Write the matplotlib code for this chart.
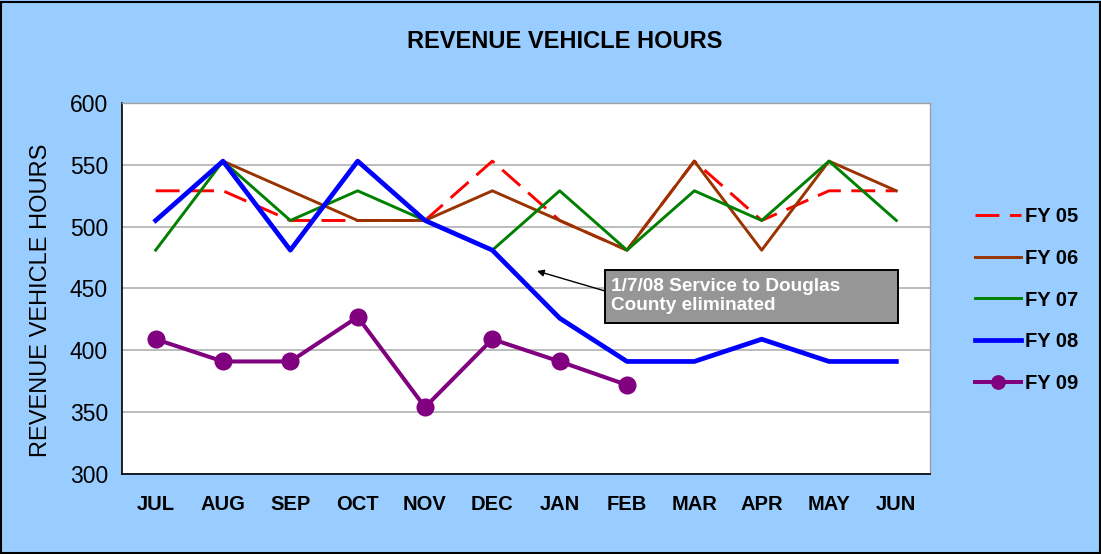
import matplotlib
matplotlib.use("Agg")
import matplotlib.pyplot as plt
from matplotlib.patches import Rectangle

plt.rcParams['font.family'] = ['Liberation Sans', 'DejaVu Sans']

months = ["JUL", "AUG", "SEP", "OCT", "NOV", "DEC", "JAN", "FEB", "MAR", "APR", "MAY", "JUN"]
fy05 = [529, 529, 505, 505, 505, 553, 505, 481, 553, 505, 529, 529]
fy06 = [None, 553, 529, 505, 505, 529, 505, 481, 553, 481, 553, 529]
fy07 = [481, 553, 505, 529, 505, 481, 529, 481, 529, 505, 553, 505]
fy08 = [505, 553, 481, 553, 505, 481, 426, 391, 391, 409, 391, 391]
fy09 = [409, 391, 391, 427, 354, 409, 391, 372]
yticks = [300, 350, 400, 450, 500, 550, 600]

W, H = 1101, 554
bg = "#99CCFF"
fig = plt.figure(figsize=(W / 100, H / 100), dpi=100, facecolor=bg)
ax = fig.add_axes([122/W, 1-474/H, (930-122)/W, (474-103)/H])
ax.set_facecolor("white")

x = list(range(len(months)))
x06 = [i for i, v in enumerate(fy06) if v is not None]
v06 = [v for v in fy06 if v is not None]
ax.plot(x, fy05, color="#FF0000", lw=2.1, dashes=(8.2, 3.6), label="FY 05", zorder=3)
ax.plot(x06, v06, color="#993300", lw=2.1, label="FY 06", zorder=4)
ax.plot(x, fy07, color="#008000", lw=2.1, label="FY 07", zorder=5)
ax.plot(x, fy08, color="#0000FF", lw=3.4, label="FY 08", zorder=6)
ax.plot(range(len(fy09)), fy09, color="#800080", lw=2.9, marker="o", ms=12,
        label="FY 09", zorder=7)

ax.set_xlim(-0.5, len(months) - 0.5)
ax.set_ylim(300, 600)
ax.set_yticks(yticks)
ax.set_yticklabels([str(v) for v in yticks], fontsize=16.5)
ax.set_xticks(x)
ax.set_xticklabels(months, fontsize=14.5, fontweight="bold")
ax.tick_params(axis="x", length=0, pad=15)
ax.tick_params(axis="y", length=0, pad=10)
ax.yaxis.grid(True, color="#B0B0B0", lw=1.2)
ax.set_axisbelow(True)
for s in ["left", "bottom"]:
    ax.spines[s].set_color("black")
    ax.spines[s].set_linewidth(1.2)
for s in ["top", "right"]:
    ax.spines[s].set_color("#A0A0A0")
    ax.spines[s].set_linewidth(1.0)

ax.set_ylabel("REVENUE VEHICLE HOURS", fontsize=17)
ax.yaxis.set_label_coords((52 - 122) / 808, (474 - 300) / 371)
fig.text(565/W, 1-41/H, "REVENUE VEHICLE HOURS", ha="center", va="center",
         fontsize=17, fontweight="bold")

# annotation box
bx0, bx1, by0, by1 = 605, 898, 270, 323
fig.patches.append(Rectangle((bx0/W, 1-by1/H), (bx1-bx0)/W, (by1-by0)/H,
                             transform=fig.transFigure, fc="#969696", ec="black",
                             lw=1.4, zorder=10))
fig.text(611/W, 1-296/H, "1/7/08 Service to Douglas\nCounty eliminated",
         ha="left", va="center", fontsize=13.7, fontweight="bold", color="white",
         linespacing=1.18, zorder=11)
ax.annotate("", xy=(537, H - 271), xycoords="figure pixels",
            xytext=(bx0, H - 291), textcoords="figure pixels",
            arrowprops=dict(arrowstyle="-|>", color="black", lw=1.0,
                            mutation_scale=10, shrinkA=0, shrinkB=0),
            zorder=9)

leg = fig.legend(loc="center left", bbox_to_anchor=(957/W, 1-300/H),
                 frameon=False, prop=dict(size=14.5, weight="bold"),
                 handlelength=2.3, labelspacing=1.12, handletextpad=0.2,
                 markerscale=0.8)

fig.patches.append(Rectangle((1/W, 1/H), 1-2/W, 1-2.5/H, transform=fig.transFigure,
                             fill=False, ec="black", lw=1.5))
fig.savefig("out.png", dpi=100, facecolor=bg)
